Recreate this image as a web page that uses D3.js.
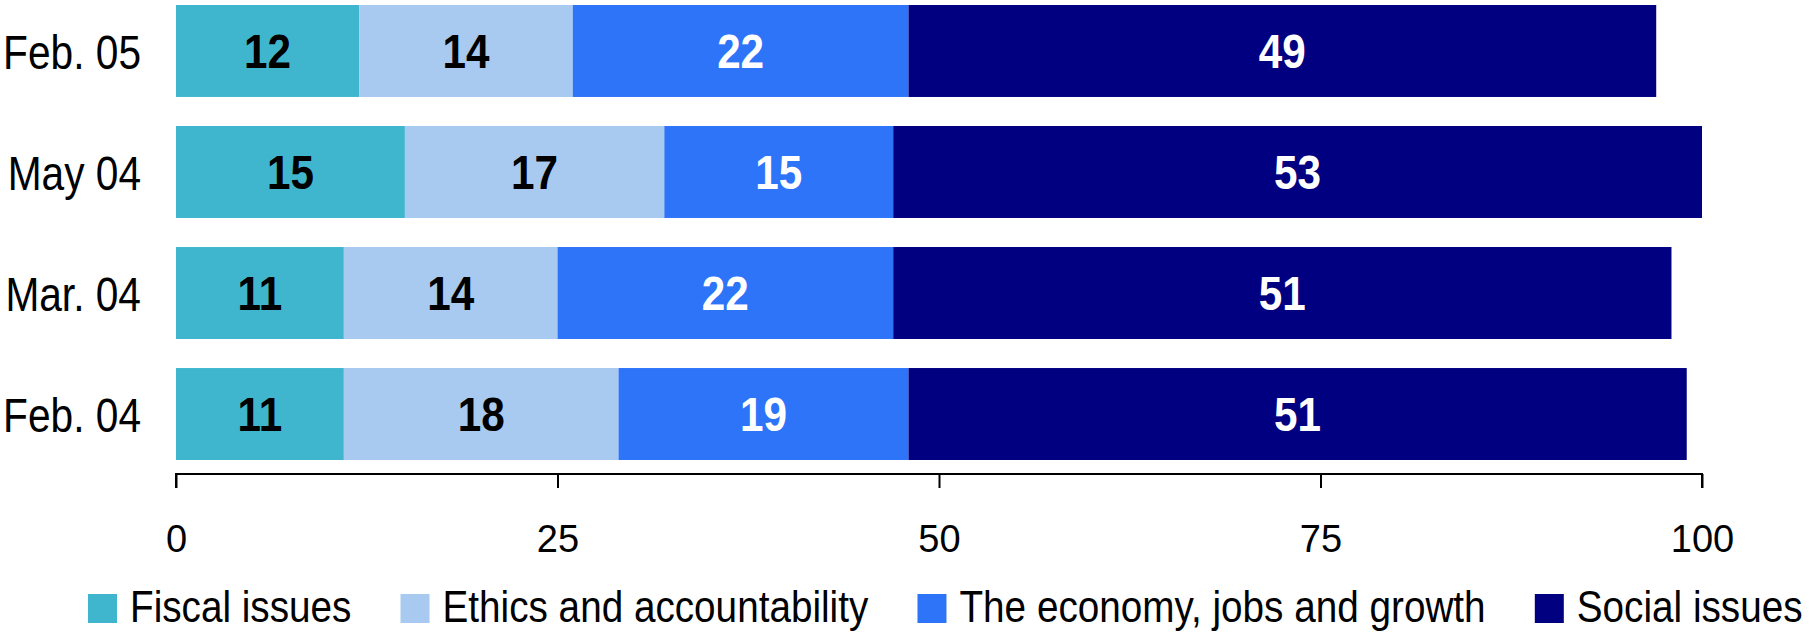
<!DOCTYPE html>
<html>
<head>
<meta charset="utf-8">
<script src="https://cdn.jsdelivr.net/npm/d3@7"></script>
<style>
  html, body { margin: 0; padding: 0; background: #ffffff; }
  svg { display: block; }
  text { font-family: "Liberation Sans", Arial, sans-serif; }
</style>
</head>
<body>
<svg id="chart" width="1809" height="633"></svg>
<script>
// ---- data ----
const categories = ["Feb. 05", "May 04", "Mar. 04", "Feb. 04"];
const seriesNames = ["Fiscal issues", "Ethics and accountability", "The economy, jobs and growth", "Social issues"];
const fiscal  = [12, 15, 11, 11];
const ethics  = [14, 17, 14, 18];
const economy = [22, 15, 22, 19];
const social  = [49, 53, 51, 51];
const xTicks = [0, 25, 50, 75, 100];

const colors = ["#40B6CE", "#A8CAF0", "#2E74F9", "#000080"];
const labelColors = ["#000000", "#000000", "#ffffff", "#ffffff"];

const table = categories.map((c, i) => ({
  cat: c,
  "Fiscal issues": fiscal[i],
  "Ethics and accountability": ethics[i],
  "The economy, jobs and growth": economy[i],
  "Social issues": social[i]
}));

// condense text horizontally (narrow font look)
function narrow(sel, sx) {
  sel.each(function () {
    const t = d3.select(this);
    const tx = +t.attr("x") || 0, ty = +t.attr("y") || 0;
    t.attr("x", 0).attr("y", 0).attr("transform", `translate(${tx},${ty}) scale(${sx},1)`);
  });
}

const svg = d3.select("#chart");

const x = d3.scaleLinear().domain([0, 100]).range([176, 1702]);
const y = d3.scaleBand().domain(categories).range([5, 460]).paddingInner(0.24).paddingOuter(0);
const color = d3.scaleOrdinal().domain(seriesNames).range(colors);
const lblColor = d3.scaleOrdinal().domain(seriesNames).range(labelColors);

const stacked = d3.stack().keys(seriesNames)(table);

const layers = svg.append("g").selectAll("g")
  .data(stacked).join("g")
  .attr("fill", d => color(d.key));

layers.selectAll("rect")
  .data(d => d.map(p => ({ key: d.key, p })))
  .join("rect")
  .attr("x", d => x(d.p[0]))
  .attr("y", d => y(d.p.data.cat))
  .attr("width", d => x(d.p[1]) - x(d.p[0]))
  .attr("height", y.bandwidth());

// value labels
const labels = svg.append("g");
stacked.forEach(layer => {
  const t = labels.selectAll(null)
    .data(layer)
    .join("text")
    .attr("x", p => (x(p[0]) + x(p[1])) / 2)
    .attr("y", p => y(p.data.cat) + y.bandwidth() / 2)
    .attr("dy", "0.36em")
    .attr("text-anchor", "middle")
    .attr("font-size", 48)
    .attr("font-weight", "bold")
    .attr("fill", lblColor(layer.key))
    .text(p => p[1] - p[0]);
  narrow(t, 0.88);
});

// category labels
const catText = svg.append("g").selectAll("text")
  .data(categories).join("text")
  .attr("x", 141)
  .attr("y", d => y(d) + y.bandwidth() / 2)
  .attr("dy", "0.36em")
  .attr("text-anchor", "end")
  .attr("font-size", 49)
  .attr("fill", "#000")
  .text(d => d);
narrow(catText, 0.83);

// x axis
const xAxis = d3.axisBottom(x).tickValues(xTicks).tickSize(14).tickPadding(37).tickFormat(d3.format("d"));
const gx = svg.append("g").attr("transform", "translate(0,474)").call(xAxis);
gx.attr("font-family", null).attr("font-size", null);
gx.select(".domain").attr("stroke", "#000").attr("stroke-width", 2).attr("d", `M${x(0)},14V0H${x(100)}V14`);
gx.selectAll(".tick line").attr("stroke", "#000").attr("stroke-width", 2);
gx.selectAll(".tick text").attr("font-size", 38).attr("fill", "#000");

// legend (flow layout)
const legendScale = 0.86;
const legend = svg.append("g");
let lx = 88;
seriesNames.forEach(name => {
  const g = legend.append("g").attr("transform", `translate(${lx},0)`);
  g.append("rect").attr("x", 0).attr("y", 594).attr("width", 29).attr("height", 29).attr("fill", color(name));
  const t = g.append("text").attr("x", 42).attr("y", 606).attr("dy", "0.36em")
    .attr("font-size", 45).attr("fill", "#000").text(name);
  const w = t.node().getComputedTextLength() * legendScale;
  narrow(t, legendScale);
  lx += 42 + w + 49;
});
</script>
</body>
</html>
